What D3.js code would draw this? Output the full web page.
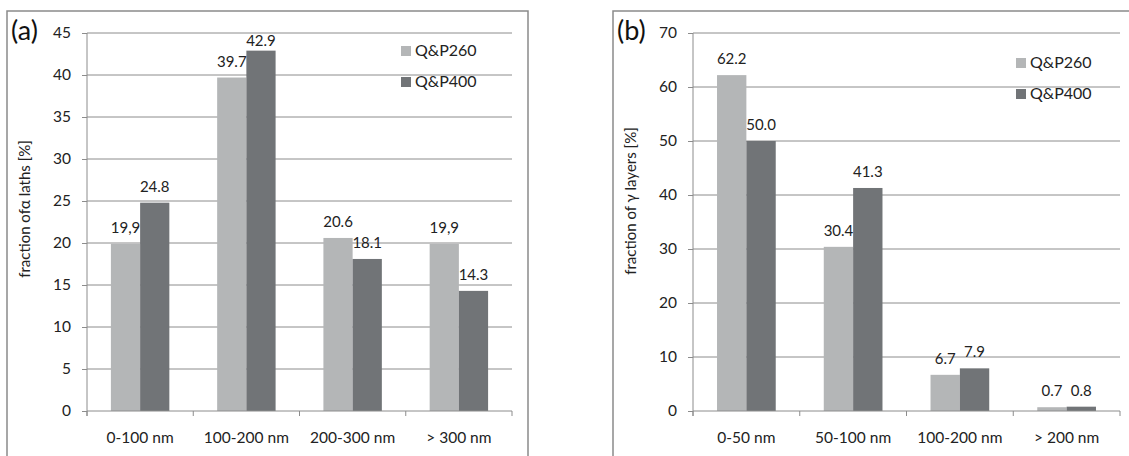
<!DOCTYPE html>
<html>
<head>
<meta charset="utf-8">
<script src="https://cdn.jsdelivr.net/npm/d3@7"></script>
<style>
  body { margin: 0; background: #fff; }
  text { font-family: Lato, "Open Sans", sans-serif; }
</style>
</head>
<body>
<div class="chart"></div>
<script>
// Data

var catsA = ["0-100 nm", "100-200 nm", "200-300 nm", "> 300 nm"];
var qp260A = [19.9, 39.7, 20.6, 19.9];
var qp400A = [24.8, 42.9, 18.1, 14.3];
var lab260A = ["19,9", "39.7", "20.6", "19,9"];
var lab400A = ["24.8", "42.9", "18.1", "14.3"];
var ticksA = [0, 5, 10, 15, 20, 25, 30, 35, 40, 45];

var catsB = ["0-50 nm", "50-100 nm", "100-200 nm", "> 200 nm"];
var qp260B = [62.2, 30.4, 6.7, 0.7];
var qp400B = [50.0, 41.3, 7.9, 0.8];
var lab260B = ["62.2", "30.4", "6.7", "0.7"];
var lab400B = ["50.0", "41.3", "7.9", "0.8"];
var ticksB = [0, 10, 20, 30, 40, 50, 60, 70];

var seriesNames = ["Q&P260", "Q&P400"];
var colors = ["#b4b6b7", "#717477"];

var svg = d3.select(".chart")
            .append("svg")
            .attr("width", 1129)
            .attr("height", 456);

function drawPanel(p) {
    var g = svg.append("g");

    // outer frame
    g.append("rect")
        .attr("x", p.frame[0]).attr("y", p.frame[1])
        .attr("width", p.frame[2]).attr("height", p.frame[3])
        .attr("fill", "none")
        .attr("stroke", "#8a8a8a")
        .attr("stroke-width", 1.5);

    var x = d3.scaleBand()
        .domain(p.cats)
        .range([p.left, p.right])
        .paddingInner(0.45)
        .paddingOuter(0.225);

    var xs = d3.scaleBand()
        .domain([0, 1])
        .range([0, x.bandwidth()]);

    var y = d3.scaleLinear()
        .domain([0, p.ticks[p.ticks.length - 1]])
        .range([p.bottom, p.top]);

    // gridlines
    g.selectAll(".grid")
        .data(p.ticks.slice(1))
        .enter()
        .append("line")
        .attr("x1", p.left).attr("x2", p.right)
        .attr("y1", d => y(d)).attr("y2", d => y(d))
        .attr("stroke", "#8c8c8c")
        .attr("stroke-width", 1);

    // y axis
    var leftAxis = d3.axisLeft(y).tickValues(p.ticks).tickSize(5).tickPadding(11);
    var ya = g.append("g")
        .attr("transform", `translate(${p.left}, 0)`)
        .call(leftAxis);
    ya.select(".domain").attr("stroke", "#8c8c8c").attr("d", `M0,${p.bottom + 5}V${p.top}`);
    ya.selectAll(".tick line").attr("stroke", "#8c8c8c");
    ya.selectAll(".tick text").attr("font-size", 15.5).attr("fill", "#222")
        .attr("font-family", "Lato, sans-serif");

    // bars
    var rows = p.cats.map((c, i) => ({ cat: c, vals: [p.s1[i], p.s2[i]], labs: [p.l1[i], p.l2[i]] }));
    var groups = g.selectAll(".grp")
        .data(rows)
        .enter()
        .append("g")
        .attr("transform", d => `translate(${x(d.cat)}, 0)`);

    groups.selectAll("rect")
        .data(d => d.vals.map((v, k) => ({ v: v, k: k })))
        .enter()
        .append("rect")
        .attr("x", d => xs(d.k))
        .attr("y", d => y(d.v))
        .attr("width", xs.bandwidth())
        .attr("height", d => p.bottom - y(d.v))
        .attr("fill", d => colors[d.k]);

    groups.selectAll("text")
        .data(d => d.vals.map((v, k) => ({ v: v, k: k, t: d.labs[k] })))
        .enter()
        .append("text")
        .attr("x", d => xs(d.k) + xs.bandwidth() / 2)
        .attr("y", d => Math.max(y(d.v) - 11, p.top + 13))
        .attr("text-anchor", "middle")
        .attr("font-size", 15)
        .attr("fill", "#222")
        .text(d => d.t);

    // x axis
    g.append("line")
        .attr("x1", p.left).attr("x2", p.right)
        .attr("y1", p.bottom).attr("y2", p.bottom)
        .attr("stroke", "#8c8c8c");

    var edges = p.cats.map(c => x(c) - x.step() * x.paddingInner() / 2);
    edges.push(p.right);
    g.selectAll(".xtick")
        .data(edges)
        .enter()
        .append("line")
        .attr("x1", d => d).attr("x2", d => d)
        .attr("y1", p.bottom).attr("y2", p.bottom + 5)
        .attr("stroke", "#8c8c8c");

    g.selectAll(".xlab")
        .data(p.cats)
        .enter()
        .append("text")
        .attr("x", d => x(d) + x.bandwidth() / 2)
        .attr("y", p.bottom + 32)
        .attr("text-anchor", "middle")
        .attr("font-size", 15.5)
        .attr("fill", "#222")
        .text(d => d);

    // axis title
    g.append("text")
        .attr("transform", `translate(${p.titleX}, ${p.titleY}) rotate(-90)`)
        .attr("text-anchor", "middle")
        .attr("dy", "0.35em")
        .attr("font-size", 15)
        .attr("fill", "#222")
        .text(p.title);

    // panel letter
    g.append("text")
        .attr("x", p.frame[0] + 4)
        .attr("y", p.top + 7)
        .attr("font-size", 27)
        .attr("fill", "#111")
        .text(p.letter);

    // legend
    seriesNames.forEach(function(name, k) {
        g.append("rect")
            .attr("x", p.legX).attr("y", p.legY + k * 31)
            .attr("width", 10).attr("height", 10)
            .attr("fill", colors[k]);
        g.append("text")
            .attr("x", p.legX + 14).attr("y", p.legY + k * 31 + 10)
            .attr("font-size", 16)
            .attr("fill", "#222")
            .text(name);
    });
}

drawPanel({
    cats: catsA, s1: qp260A, s2: qp400A, l1: lab260A, l2: lab400A, ticks: ticksA,
    left: 87, right: 512, top: 33, bottom: 411,
    frame: [7, 11, 521, 460],
    title: "fraction of\u03b1 laths [%]", titleX: 25, titleY: 209,
    letter: "(a)", legX: 401, legY: 46
});

drawPanel({
    cats: catsB, s1: qp260B, s2: qp400B, l1: lab260B, l2: lab400B, ticks: ticksB,
    left: 693, right: 1120, top: 33, bottom: 411,
    frame: [613, 11, 530, 460],
    title: "fraction of \u03b3 layers [%]", titleX: 631, titleY: 201,
    letter: "(b)", legX: 1016, legY: 58
});
</script>
</body>
</html>
